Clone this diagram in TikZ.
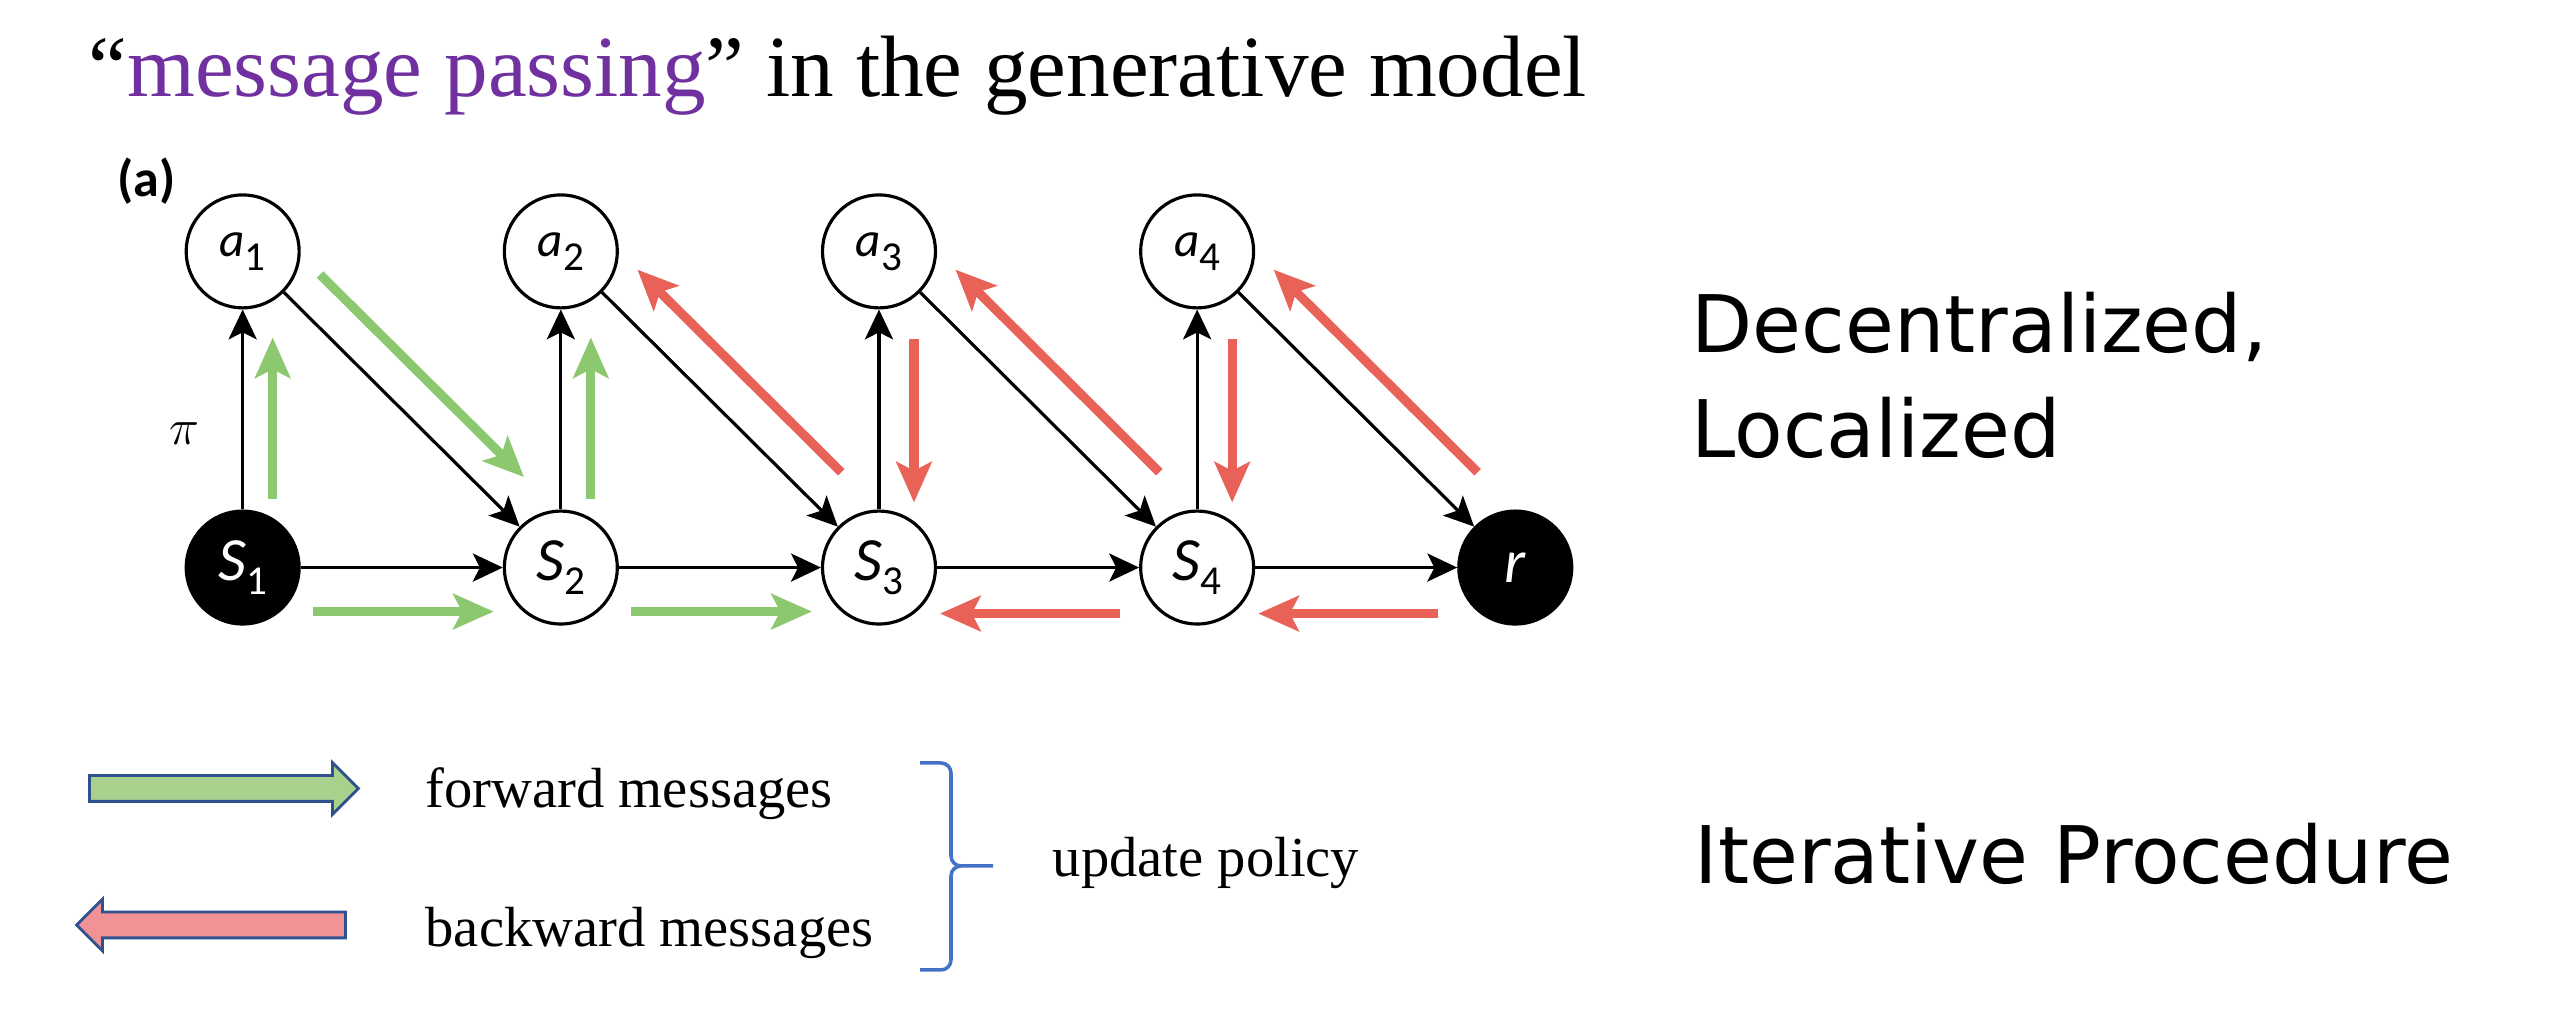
\documentclass[tikz,border=0pt]{standalone}
\usepackage{fontspec}
\setmainfont{Liberation Serif}
\newfontfamily\calibri{Carlito}
\newfontfamily\handfont{DejaVu Sans}
\usepackage{tikz}
\usetikzlibrary{matrix,arrows.meta,positioning,shapes.arrows}

\definecolor{msgpurple}{HTML}{7030A0}
\definecolor{fwdgreen}{RGB}{140,200,112}
\definecolor{bwdred}{RGB}{233,98,88}
\definecolor{keygreen}{HTML}{A9D18E}
\definecolor{keyred}{RGB}{240,146,150}
\definecolor{keyblue}{HTML}{2F528F}
\definecolor{bracecol}{HTML}{4472C4}

\newcommand{\lbl}[2]{\textit{#1}\raisebox{-4pt}{\fontsize{11.7}{12}\selectfont #2}}

\tikzset{
  var/.style={circle, draw, line width=0.9pt, minimum size=1.13cm, inner sep=0pt, anchor=center},
  act/.style={font=\calibri\fontsize{14}{16}\selectfont},
  st/.style={font=\calibri\fontsize{17.5}{20}\selectfont},
  obs/.style={st, fill=black, text=white},
  msg/.style={line width=2.6pt, -{Stealth[length=11.5pt,width=10pt,inset=2.5pt]}},
  fwd/.style={msg, draw=fwdgreen},
  bwd/.style={msg, draw=bwdred},
  upmsg/.style={transform canvas={xshift=0.3cm}, shorten <=0.10cm, shorten >=0.28cm},
  downmsg/.style={transform canvas={xshift=0.35cm}, shorten <=0.30cm, shorten >=0.07cm},
  diagfwd/.style={transform canvas={xshift=0.27cm, yshift=0.27cm}, shorten <=0.13cm, shorten >=0.32cm},
  diagbwd/.style={transform canvas={xshift=0.29cm, yshift=0.29cm}, shorten <=0.36cm, shorten >=0.09cm},
  hfwd/.style={transform canvas={yshift=-0.44cm}, shorten <=0.12cm, shorten >=0.09cm},
  hbwd/.style={transform canvas={yshift=-0.46cm}, shorten <=0.19cm, shorten >=0.03cm},
  keyarrow/.style={single arrow, draw=keyblue, line width=0.8pt, minimum height=2.69cm,
    inner xsep=0pt, inner ysep=0.115cm, single arrow head extend=0.13cm},
  keytext/.style={anchor=base west, inner sep=0pt, font=\fontsize{16.1}{19}\selectfont},
  sidetext/.style={anchor=base west, inner sep=0pt, font=\handfont\fontsize{22.6}{27}\selectfont}
}

\begin{document}
\begin{tikzpicture}[>={Stealth[length=8.5pt,width=8pt,inset=2pt]}]
  \useasboundingbox[fill=white] (0,0) rectangle (25.56,10.23);

  \node[anchor=base west, inner sep=0pt, font=\fontsize{24.8}{30}\selectfont] (title) at (0.88,9.26)
    {“\textcolor{msgpurple}{message passing}” in the generative model};
  \node[anchor=base west, inner sep=0pt, font=\calibri\bfseries\fontsize{14.8}{17}\selectfont] (panel) at (1.17,8.26) {(a)};

  \matrix (m) [matrix of nodes, row sep=2.0cm, column sep=2.02cm, nodes={var}] at (8.79,6.135)
  {
|[act]| \lbl{a}{1} & |[act]| \lbl{a}{2} & |[act]| \lbl{a}{3} & |[act]| \lbl{a}{4} & \\
|[obs]| \lbl{S}{1} & |[st]| \lbl{S}{2} & |[st]| \lbl{S}{3} & |[st]| \lbl{S}{4} & |[obs]| \textit{r} \\
};
  \path[->, line width=0.9pt]
  (m-2-1) edge node [left=0.3cm, pos=0.38, font=\fontsize{15.5}{18}\selectfont] {$\pi$} (m-1-1)
          edge (m-2-2)
  (m-1-1) edge (m-2-2)
  (m-2-2) edge (m-1-2)
          edge (m-2-3)
  (m-1-2) edge (m-2-3)
  (m-2-3) edge (m-1-3)
          edge (m-2-4)
  (m-1-3) edge (m-2-4)
  (m-2-4) edge (m-1-4)
          edge (m-2-5)
  (m-1-4) edge (m-2-5)
  ;

  \draw[fwd, upmsg] (m-2-1) -- (m-1-1);
  \draw[fwd, upmsg] (m-2-2) -- (m-1-2);
  \draw[bwd, downmsg] (m-1-3) -- (m-2-3);
  \draw[bwd, downmsg] (m-1-4) -- (m-2-4);
  \draw[fwd, diagfwd] (m-1-1) -- (m-2-2);
  \draw[bwd, diagbwd] (m-2-3) -- (m-1-2);
  \draw[bwd, diagbwd] (m-2-4) -- (m-1-3);
  \draw[bwd, diagbwd] (m-2-5) -- (m-1-4);
  \draw[fwd, hfwd] (m-2-1) -- (m-2-2);
  \draw[fwd, hfwd] (m-2-2) -- (m-2-3);
  \draw[bwd, hbwd] (m-2-4) -- (m-2-3);
  \draw[bwd, hbwd] (m-2-5) -- (m-2-4);

  \node[keyarrow, fill=keygreen] (keyfwd) at (2.175,2.345) {};
  \node[keyarrow, fill=keyred, rotate=180] (keybwd) at (2.175,0.98) {};
  \node[keytext] (fwdtext) at (4.25,2.15) {forward messages};
  \node[keytext] (bwdtext) at (4.25,0.76) {backward messages};
  \node[keytext] (update) at (10.52,1.46) {update policy};

  \draw[bracecol, line width=1pt]
    (9.20,2.60) -- (9.41,2.60) to[out=0,in=90] (9.51,2.50) -- (9.51,1.67)
    to[out=-90,in=180] (9.61,1.57) -- (9.93,1.57)
    (9.61,1.57) to[out=180,in=90] (9.51,1.47) -- (9.51,0.63)
    to[out=-90,in=0] (9.41,0.53) -- (9.20,0.53);

  \node[sidetext] (decent) at (16.91,6.70) {Decentralized,};
  \node[sidetext] (local) at (16.91,5.65) {Localized};
  \node[sidetext] (iter) at (16.94,1.39) {Iterative Procedure};
\end{tikzpicture}
\end{document}
